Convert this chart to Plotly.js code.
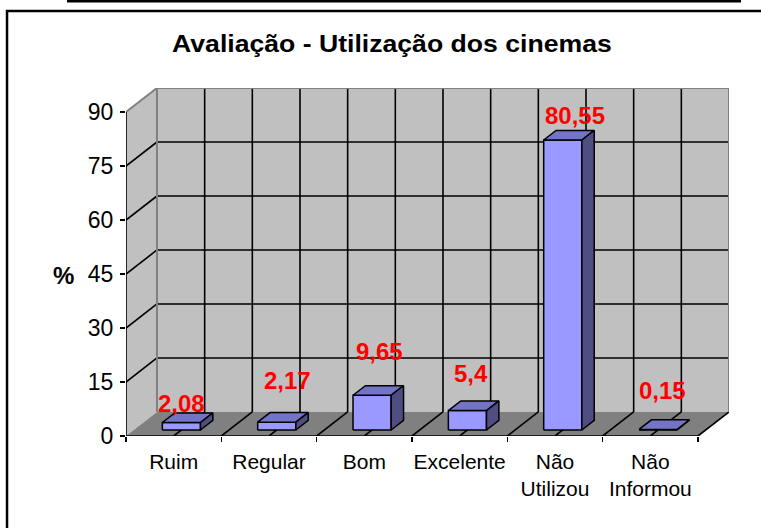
<!DOCTYPE html>
<html>
<head>
<meta charset="utf-8">
<script src="https://cdn.plot.ly/plotly-3.0.1.min.js"></script>
<style>html,body{margin:0;padding:0;background:#fff;}#chart{width:761px;height:528px;}</style>
</head>
<body>
<div id="chart"></div>
<script>
// ---- data ----
const categories = ['Ruim', 'Regular', 'Bom', 'Excelente', 'Não<br>Utilizou', 'Não<br>Informou'];
const values = [2.08, 2.17, 9.65, 5.4, 80.55, 0.15];
const valueLabels = ['2,08', '2,17', '9,65', '5,4', '80,55', '0,15'];
const yTickVals = [0, 15, 30, 45, 60, 75, 90];
const yTickText = ['0', '15', '30', '45', '60', '75', '90'];

// ---- 3D look (layout only) ----
const DX = 0.325, DY = 6.67;        // depth of the box in category / value units
const F1 = 0.25, F2 = 0.65;         // bar front / back depth fraction
const HALF = 0.2;                   // half bar width
const labelLift = [1.0, 7.3, 7.9, 6.0, 2.5, 6.5];   // label gap above bar (value units)
const labelShift = [-6, 5, 1, -3, 6, -2];          // label x nudge (px)
const YMAX = 90;
const N = categories.length;
const centers = categories.map((_, i) => i);

const traces = [];
function poly(xs, ys, fill, lineColor, lw) {
  traces.push({type: 'scatter', mode: 'lines', x: xs.concat([xs[0]]), y: ys.concat([ys[0]]),
    fill: 'toself', fillcolor: fill, line: {color: lineColor, width: lw},
    hoverinfo: 'skip', showlegend: false});
}
function lines(segs, color, width) {
  const xs = [], ys = [];
  segs.forEach(s => { xs.push(s[0], s[2], null); ys.push(s[1], s[3], null); });
  traces.push({type: 'scatter', mode: 'lines', x: xs, y: ys, line: {color: color, width: width},
    hoverinfo: 'skip', showlegend: false, connectgaps: false});
}
const L = -0.5, R = N - 0.5;
// walls
poly([L, L + DX, L + DX, L], [0, DY, YMAX + DY, YMAX], '#C0C0C0', 'rgba(0,0,0,0)', 0);
poly([L + DX, R + DX, R + DX, L + DX], [DY, DY, YMAX + DY, YMAX + DY], '#C0C0C0', 'rgba(0,0,0,0)', 0);
poly([L, R, R + DX, L + DX], [0, 0, DY, DY], '#808080', 'rgba(0,0,0,0)', 0);
// gridlines
const grid = [];
yTickVals.forEach(g => {
  if (g > 0 && g < YMAX) {
    grid.push([L + DX, g + DY, R + DX, g + DY]);
    grid.push([L, g, L + DX, g + DY]);
  }
});
for (let k = 1; k < 2 * N; k++) grid.push([L + DX + 0.5 * k, DY, L + DX + 0.5 * k, YMAX + DY]);
for (let k = 1; k <= 2 * N; k++) grid.push([L + 0.5 * k, 0, L + 0.5 * k + DX, DY]);
lines(grid, '#000000', 1.6);
// gray edges
lines([[L, YMAX, L + DX, YMAX + DY], [L + DX, YMAX + DY, R + DX, YMAX + DY],
       [R + DX, YMAX + DY, R + DX, DY], [L + DX, DY, L + DX, YMAX + DY]], '#808080', 2);
// front axis lines
lines([[L, 0, R, 0], [L, 0, L, YMAX]], '#000000', 1.6);

// bars
const bx = (F2 - F1) * DX, by = (F2 - F1) * DY;
values.forEach((v, i) => {
  const x0 = centers[i] - HALF + F1 * DX, x1 = centers[i] + HALF + F1 * DX;
  const y0 = F1 * DY, y1 = v + F1 * DY;
  poly([x0, x1, x1, x0], [y0, y0, y1, y1], '#9999FF', '#000000', 1.5);
  poly([x0, x1, x1 + bx, x0 + bx], [y1, y1, y1 + by, y1 + by], '#7474C6', '#000000', 1.5);
  poly([x1, x1 + bx, x1 + bx, x1], [y0, y0 + by, y1 + by, y1], '#4E4E82', '#000000', 1.5);
});

const annotations = values.map((v, i) => ({
  x: centers[i] + (F1 + F2) / 2 * DX, y: v + F1 * DY + labelLift[i],
  xref: 'x', yref: 'y', text: '<b>' + valueLabels[i] + '</b>', showarrow: false,
  xanchor: 'center', yanchor: 'bottom', xshift: labelShift[i],
  font: {family: 'Liberation Sans, Arial, sans-serif', size: 24, color: '#FF0000'}
}));
annotations.push({
  x: -0.083, xref: 'paper', y: 44.5, yref: 'y', text: '<b>%</b>', showarrow: false,
  xanchor: 'right', yanchor: 'middle',
  font: {family: 'Liberation Sans, Arial, sans-serif', size: 24, color: '#000'}
});

const layout = {
  width: 761, height: 528,
  margin: {l: 126, r: 32, t: 88, b: 92, pad: 0},
  paper_bgcolor: '#FFFFFF', plot_bgcolor: 'rgba(0,0,0,0)',
  showlegend: false,
  title: {text: '<b>Avaliação - Utilização dos cinemas</b>', xref: 'container', yref: 'container',
    x: 0.515, y: 0.918, xanchor: 'center', yanchor: 'middle',
    font: {family: 'Liberation Sans, Arial, sans-serif', size: 24, color: '#000'}},
  xaxis: {range: [L, R + DX], showgrid: false, zeroline: false, showline: false,
    tickmode: 'array', tickvals: centers, ticktext: categories, ticks: '',
    ticklabelstandoff: 11,
    tickfont: {family: 'Liberation Sans, Arial, sans-serif', size: 21, color: '#000'},
    minor: {tickmode: 'array', tickvals: Array.from({length: N + 1}, (_, k) => L + k),
      ticks: 'outside', ticklen: 5, tickcolor: '#000', tickwidth: 1.6, showgrid: false},
    fixedrange: true},
  yaxis: {range: [0, YMAX + DY], showgrid: false, zeroline: false, showline: false,
    tickmode: 'array', tickvals: yTickVals, ticktext: yTickText,
    ticks: 'outside', ticklen: 5, tickcolor: '#000', tickwidth: 1.6, ticklabelstandoff: 2,
    tickfont: {family: 'Liberation Sans, Arial, sans-serif', size: 23, color: '#000'},
    fixedrange: true},
  annotations: annotations,
  shapes: [
    {type: 'rect', xref: 'paper', yref: 'paper', x0: -0.1973, x1: 1.12, y0: -0.35, y1: 1.2213,
      line: {color: '#000', width: 2.5}, fillcolor: 'rgba(0,0,0,0)', layer: 'below'},
    {type: 'line', xref: 'paper', yref: 'paper', x0: -0.0978, x1: 1.0199, y0: 1.2500, y1: 1.2500,
      line: {color: '#000', width: 3}}
  ]
};

Plotly.newPlot('chart', traces, layout, {staticPlot: true, displayModeBar: false}).then(() => {
  // match the reference title's overall width around its centre
  const t = document.querySelector('.gtitle');
  if (t && t.getBBox) {
    const bb = t.getBBox();
    const target = 440;
    const s = target / bb.width;
    const cx = bb.x + bb.width / 2;
    t.setAttribute('transform', 'translate(' + cx + ',0) scale(' + s + ',1) translate(' + (-cx) + ',0)');
  }
});
</script>
</body>
</html>
